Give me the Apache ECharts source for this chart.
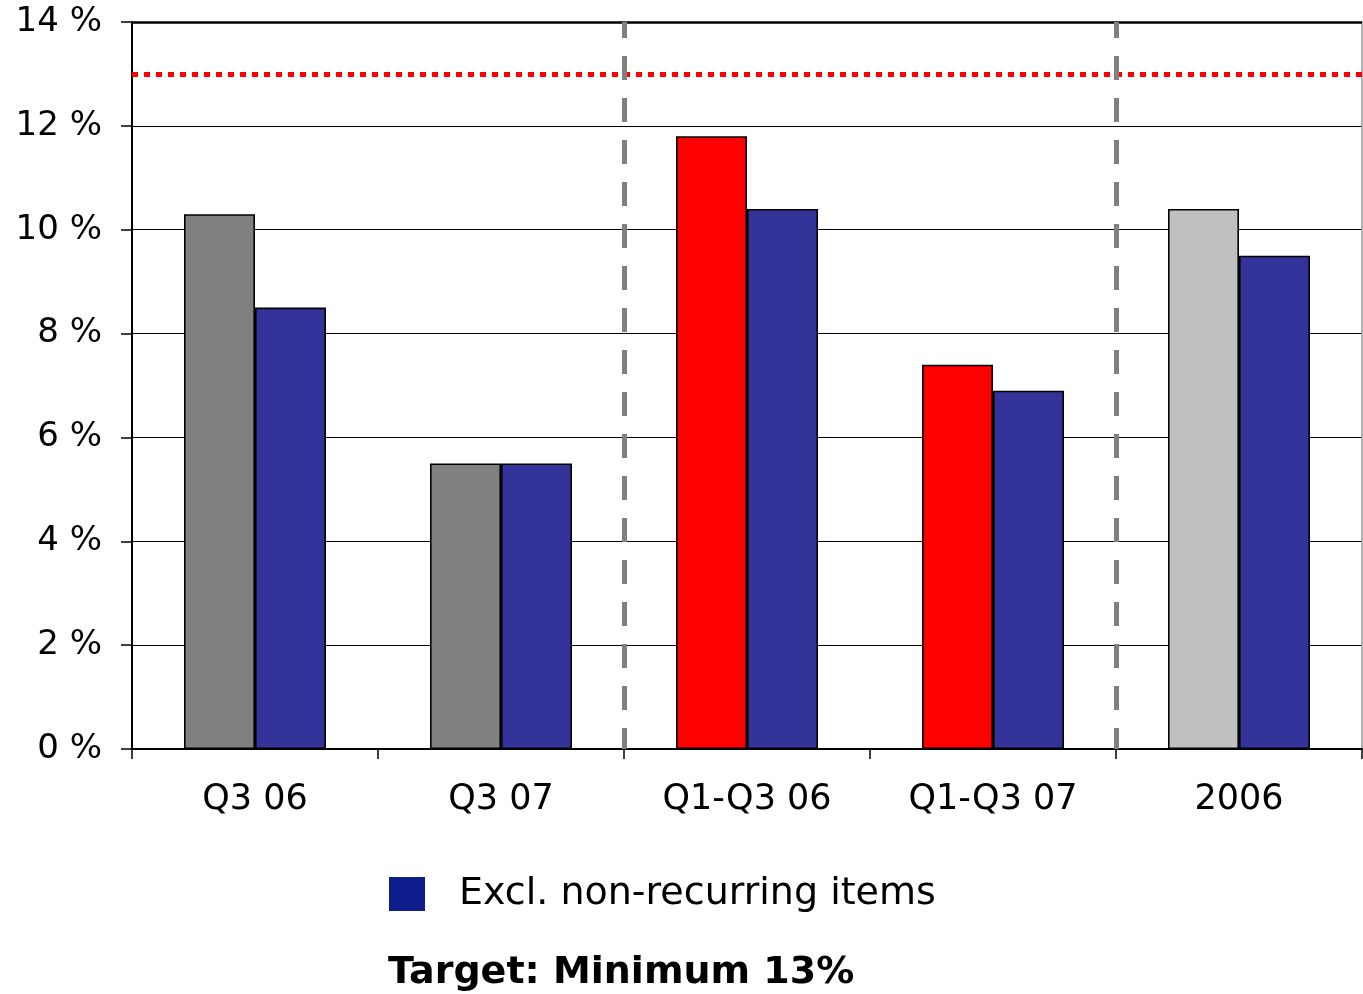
<!DOCTYPE html>
<html>
<head>
<meta charset="utf-8">
<title>Return on equity</title>
<script src="https://cdn.jsdelivr.net/npm/echarts@6/dist/echarts.min.js"></script>
<style>
  html, body { margin: 0; padding: 0; background: #ffffff; }
  #chart { width: 1363px; height: 994px; }
</style>
</head>
<body>
<div id="chart"></div>
<script>
// Periods shown on the category axis
const categories = ['Q3 06', 'Q3 07', 'Q1-Q3 06', 'Q1-Q3 07', '2006'];
// Reported figure (%), coloured per period group
const reported = [10.3, 5.5, 11.8, 7.4, 10.4];
const reportedColors = ['#808080', '#808080', '#FF0000', '#FF0000', '#C0C0C0'];
// Figure excluding non-recurring items (%)
const exclNonRecurring = [8.5, 5.5, 10.4, 6.9, 9.5];
// Minimum target (%)
const target = 13;
// Y axis range
const yMin = 0, yMax = 14, yStep = 2;
// Group separators, placed on category boundaries (boundary index)
const separators = [2, 4];

const FONT = '"DejaVu Sans", Verdana, sans-serif';
const chart = echarts.init(document.getElementById('chart'), null, { renderer: 'canvas' });

chart.setOption({
  backgroundColor: '#ffffff',
  animation: false,
  textStyle: { fontFamily: FONT },
  title: {
    text: 'Target: Minimum 13%',
    left: 388,
    top: 954,
    padding: 0,
    textStyle: { fontFamily: FONT, fontSize: 38, fontWeight: 'bold', color: '#000000' }
  },
  legend: {
    left: 389,
    top: 875,
    padding: 0,
    itemWidth: 36,
    itemHeight: 34,
    selectedMode: false,
    data: [{
      name: 'Excl. non-recurring items',
      icon: 'rect',
      itemStyle: { color: '#0F1D8C', borderWidth: 0 }
    }],
    textStyle: { fontFamily: FONT, fontSize: 38, color: '#000000', padding: [0, 0, 0, 29] }
  },
  grid: { left: 132, right: 1, top: 22, bottom: 245, containLabel: false },
  xAxis: [
    {
      type: 'category',
      data: categories,
      boundaryGap: true,
      axisLine: { lineStyle: { color: '#000000', width: 2 } },
      axisTick: { show: true, length: 10, lineStyle: { color: '#000000', width: 1.5 } },
      axisLabel: { fontFamily: FONT, fontSize: 35, color: '#000000', margin: 33 },
      splitLine: { show: false }
    },
    {
      // helper axis spanning the category bands, used to place the separators
      type: 'value',
      min: 0,
      max: categories.length,
      show: false
    }
  ],
  yAxis: [
    {
      type: 'value',
      min: yMin,
      max: yMax,
      interval: yStep,
      axisLine: { show: true, lineStyle: { color: '#000000', width: 2 } },
      axisTick: { show: true, length: 11, lineStyle: { color: '#000000', width: 1.5 } },
      axisLabel: {
        fontFamily: FONT, fontSize: 34, color: '#000000', margin: 30,
        formatter: function (v) { return v + ' %'; }
      },
      splitLine: { show: true, lineStyle: { color: '#000000', width: 1.2 } }
    },
    {
      // thin frame on the right edge of the plot
      type: 'value',
      position: 'right',
      min: yMin,
      max: yMax,
      interval: yStep,
      axisLine: { show: true, lineStyle: { color: '#999999', width: 1.5 } },
      axisTick: { show: false },
      axisLabel: { show: false },
      splitLine: { show: false }
    }
  ],
  series: [
    {
      name: 'Reported',
      type: 'bar',
      barWidth: 71,
      barGap: '0%',
      data: reported.map(function (v, i) {
        return { value: v, itemStyle: { color: reportedColors[i] } };
      }),
      itemStyle: { borderColor: '#000000', borderWidth: 1.6 },
      markLine: {
        silent: true,
        symbol: 'none',
        label: { show: false },
        data: [
          { yAxis: target, lineStyle: { color: '#FF0000', width: 5, type: [6, 6] } },
          { yAxis: yMax, lineStyle: { color: '#000000', width: 2.5, type: 'solid' } }
        ]
      }
    },
    {
      name: 'Excl. non-recurring items',
      type: 'bar',
      barWidth: 71,
      barGap: '0%',
      data: exclNonRecurring,
      itemStyle: { color: '#333399', borderColor: '#000000', borderWidth: 1.6 }
    },
    {
      name: 'Separators',
      type: 'line',
      xAxisIndex: 1,
      yAxisIndex: 0,
      data: [],
      z: 5,
      markLine: {
        silent: true,
        symbol: 'none',
        label: { show: false },
        lineStyle: { color: '#808080', width: 5, type: [24, 18], dashOffset: 3 },
        data: separators.map(function (b) { return { xAxis: b }; })
      }
    }
  ]
});
</script>
</body>
</html>
